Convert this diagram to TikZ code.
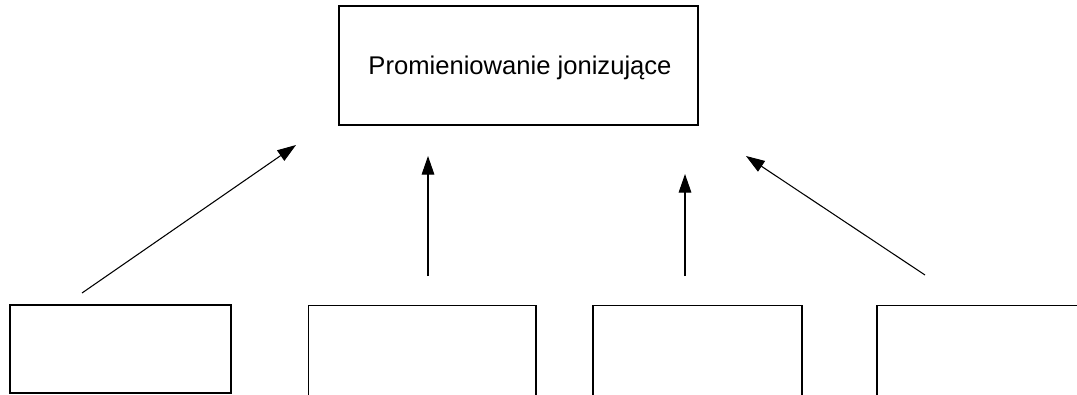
\documentclass[tikz,border=0pt]{standalone}
\usepackage{fontspec}
\setmainfont{Liberation Sans}
\usetikzlibrary{arrows.meta}
\tikzset{
  box/.style={draw=black, line width=0.9pt, inner sep=0pt, outer sep=0pt, fill=none},
  link/.style={line width=0.8pt, -{Triangle[length=14pt, width=9.5pt]}},
}
\begin{document}
\begin{tikzpicture}[x=0.75pt, y=-0.75pt]
  \useasboundingbox (0,0) rectangle (1077,394);
  \clip (0,0) rectangle (1077,394);
  \fill[white] (0,0) rectangle (1077,394);

  % main box and its caption
  \node[box, minimum width=269.25pt, minimum height=89.25pt] (top) at (518.5,65.5) {};
  \node[anchor=base, inner sep=0pt, font=\fontsize{19.2}{23}\selectfont] (title) at (520,74) {Promieniowanie jonizujące};

  % lower boxes (running past the lower edge)
  \node[box, minimum width=165.75pt, minimum height=66pt] (b1) at (120.5,349) {};
  \node[box, minimum width=170.6pt, minimum height=86pt] (b2) at (422.25,362.5) {};
  \node[box, minimum width=156.75pt, minimum height=86pt] (b3) at (697.5,362.5) {};
  \node[box, minimum width=167.25pt, minimum height=86pt] (b4) at (988.5,362.5) {};

  % arrow ends
  \coordinate (s1) at (82,293);
  \coordinate (t1) at (296,145);
  \coordinate (s2) at (428,276);
  \coordinate (t2) at (428,156);
  \coordinate (s3) at (685,276);
  \coordinate (t3) at (685,174);
  \coordinate (s4) at (925,275);
  \coordinate (t4) at (746,156);

  \draw[link] (s1) -- (t1);
  \draw[link] (s2) -- (t2);
  \draw[link] (s3) -- (t3);
  \draw[link] (s4) -- (t4);
\end{tikzpicture}
\end{document}
